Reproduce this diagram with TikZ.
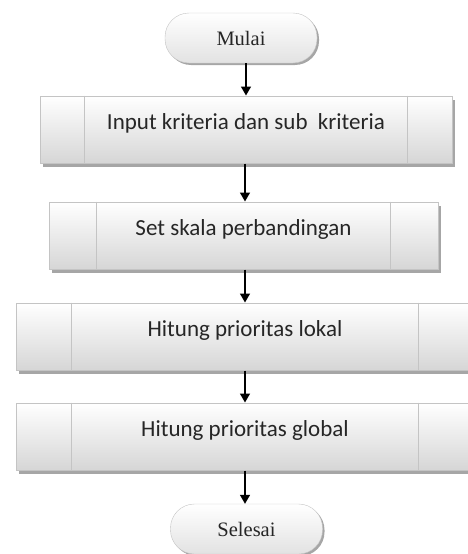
\documentclass[tikz,border=0pt]{standalone}
\usepackage{fontspec}
\setmainfont{Liberation Serif}
\newfontfamily\calibri{Carlito}
\usetikzlibrary{arrows.meta,shadows}
\definecolor{garis}{HTML}{C4C4C4}
\definecolor{isi}{HTML}{D6D6D6}
\definecolor{bayang}{HTML}{A6A6A6}
\tikzset{every node/.style={inner sep=0pt, text=black!85},
  terminal/.style={draw=garis, rounded corners=24pt, top color=white, bottom color=isi!70,
    minimum width=152pt, minimum height=50pt, font=\fontsize{20.5}{24}\selectfont,
    drop shadow={shadow xshift=2pt, shadow yshift=-2pt, fill=bayang, opacity=1}},
  proses/.style={draw=garis, line width=1pt, top color=white, bottom color=isi,
    minimum height=67pt, text height=16pt, text depth=16pt, font=\calibri\fontsize{23}{27}\selectfont,
    drop shadow={shadow xshift=3pt, shadow yshift=-4pt, fill=bayang, opacity=1}},
  panah/.style={black, line width=1.4pt, -{Triangle[width=10pt,length=9pt]}}}

\begin{document}
\begin{tikzpicture}[x=1pt,y=-1pt]
   \useasboundingbox (0,0) rectangle (467,554);
   \node[terminal] (mulai) at (241,38) {Mulai};
   \node[proses, minimum width=412pt] (input) at (246,129.5) {Input kriteria dan sub\ \ kriteria};
   \node[proses, minimum width=389pt] (skala) at (243.5,235.5) {Set skala perbandingan};
   \node[proses, minimum width=458pt] (lokal) at (245,336.5) {Hitung prioritas lokal};
   \node[proses, minimum width=458pt] (global) at (245,436.5) {Hitung prioritas global};
   \node[terminal] (selesai) at (246.5,529) {Selesai};
   % garis samping proses
   \foreach \n/\s in {input/45, skala/48, lokal/56, global/56} {
     \draw[garis, line width=1pt] ([xshift=\s]\n.north west) -- ([xshift=\s]\n.south west);
     \draw[garis, line width=1pt] ([xshift=-\s]\n.north east) -- ([xshift=-\s]\n.south east);
   }
   \draw[panah] (mulai.south -| input.north) -- (input.north);
   \draw[panah] (input.south -| lokal.north) -- (lokal.north |- skala.north);
   \draw[panah] (skala.south -| lokal.north) -- (lokal.north);
   \draw[panah] (lokal.south) -- (global.north);
   \draw[panah] (global.south) -- (global.south |- selesai.north);
\end{tikzpicture}
\end{document}
